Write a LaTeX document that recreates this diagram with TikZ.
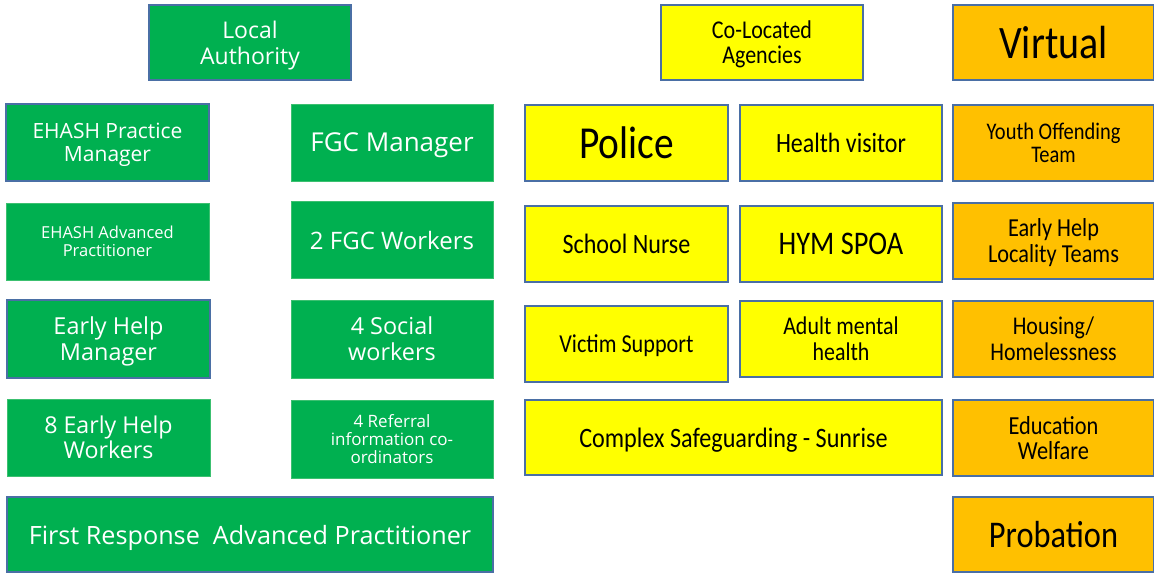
\documentclass[tikz,border=0pt]{standalone}
\usepackage{fontspec}
\setmainfont{Carlito}
\newfontfamily\gfont{Open Sans}
\newfontfamily\cfont[FakeStretch=0.86]{Carlito}
\definecolor{gr}{HTML}{00B050}
\definecolor{grl}{HTML}{3CC070}
\definecolor{ye}{HTML}{FFFF00}
\definecolor{orn}{HTML}{FFC000}
\definecolor{bord}{HTML}{4A6FA5}
\tikzset{
  base/.style={rectangle, inner sep=0pt, align=center, text depth=0pt},
  gbox/.style={base, fill=gr, draw=grl, line width=0.8pt, text=white},
  gboxb/.style={base, fill=gr, draw=bord, line width=2pt, text=white},
  ybox/.style={base, fill=ye, draw=bord, line width=2pt, text=black},
  obox/.style={base, fill=orn, draw=bord, line width=2pt, text=black},
}
\newcommand{\gf}[2]{\gfont\fontsize{#1}{#2}\selectfont}
\newcommand{\cf}[2]{\cfont\fontsize{#1}{#2}\selectfont}
\begin{document}
\begin{tikzpicture}[x=1pt,y=-1pt]
\useasboundingbox (0,0) rectangle (1154,574);
% green column
\node[gboxb, minimum width=202pt, minimum height=75pt, font=\gf{23}{26}] (la) at (250,42.5) {Local\\Authority};
\node[gboxb, minimum width=203pt, minimum height=77pt, font=\gf{21}{23}] (ehpm) at (107.5,142.5) {EHASH Practice\\Manager};
\node[gbox, minimum width=202pt, minimum height=77pt, font=\gf{26}{28}] (fgcm) at (392,142.5) {FGC Manager};
\node[gbox, minimum width=203pt, minimum height=77pt, font=\gf{16.5}{18}] (ehap) at (107.5,241.5) {EHASH Advanced\\Practitioner};
\node[gbox, minimum width=202pt, minimum height=77pt, font=\gf{24}{26}] (fgcw) at (392,240) {2 FGC Workers};
\node[gboxb, minimum width=203pt, minimum height=78pt, font=\gf{23.4}{26}] (ehm) at (108.5,339) {Early Help\\Manager};
\node[gbox, minimum width=202pt, minimum height=78pt, font=\gf{23.4}{26}] (sw) at (392,339) {4 Social\\workers};
\node[gbox, minimum width=203pt, minimum height=77pt, font=\gf{23.2}{25}] (ehw) at (108.5,437.5) {8 Early Help\\Workers};
\node[gbox, minimum width=202pt, minimum height=78pt, font=\gf{17}{18}] (ric) at (392,439) {4 Referral\\information co-\\ordinators};
\node[gboxb, minimum width=486pt, minimum height=75pt, font=\gf{25.2}{28}] (frap) at (250,534.5) {First Response\ \ Advanced Practitioner};
% yellow
\node[ybox, minimum width=202pt, minimum height=75pt, font=\cf{25.6}{25}] (cla) at (762,42.5) {Co-Located\\Agencies};
\node[ybox, minimum width=203pt, minimum height=76pt, font=\cf{45.8}{48}] (pol) at (626.5,143) {Police};
\node[ybox, minimum width=202pt, minimum height=76pt, font=\cf{27.9}{30}] (hv) at (841,143) {Health visitor};
\node[ybox, minimum width=203pt, minimum height=76pt, font=\cf{28}{30}] (sn) at (626.5,244) {School Nurse};
\node[ybox, minimum width=202pt, minimum height=76pt, font=\cf{33}{36}] (hym) at (841,244) {HYM SPOA};
\node[ybox, minimum width=203pt, minimum height=76pt, font=\cf{25.8}{28}] (vs) at (626.5,344) {Victim Support};
\node[ybox, minimum width=202pt, minimum height=76pt, font=\cf{25.5}{26}] (amh) at (841,339) {Adult mental\\health};
\node[ybox, minimum width=417pt, minimum height=75pt, font=\cf{28.1}{30}] (cs) at (733.5,437.5) {Complex Safeguarding - Sunrise};
% orange
\node[obox, minimum width=201pt, minimum height=75pt, font=\cf{46.5}{50}] (vir) at (1053.5,42.5) {Virtual};
\node[obox, minimum width=201pt, minimum height=76pt, font=\cf{23.8}{23}] (yot) at (1053.5,143) {Youth Offending\\Team};
\node[obox, minimum width=201pt, minimum height=76pt, font=\cf{25.9}{26}] (ehlt) at (1053.5,241) {Early Help\\Locality Teams};
\node[obox, minimum width=201pt, minimum height=76pt, font=\cf{25.5}{26}] (hh) at (1053.5,339) {Housing/\\Homelessness};
\node[obox, minimum width=201pt, minimum height=76pt, font=\cf{26}{25}] (ew) at (1053.5,438) {Education\\Welfare};
\node[obox, minimum width=201pt, minimum height=75pt, font=\cf{37.7}{40}] (prob) at (1053.5,534.5) {Probation};
\end{tikzpicture}
\end{document}
